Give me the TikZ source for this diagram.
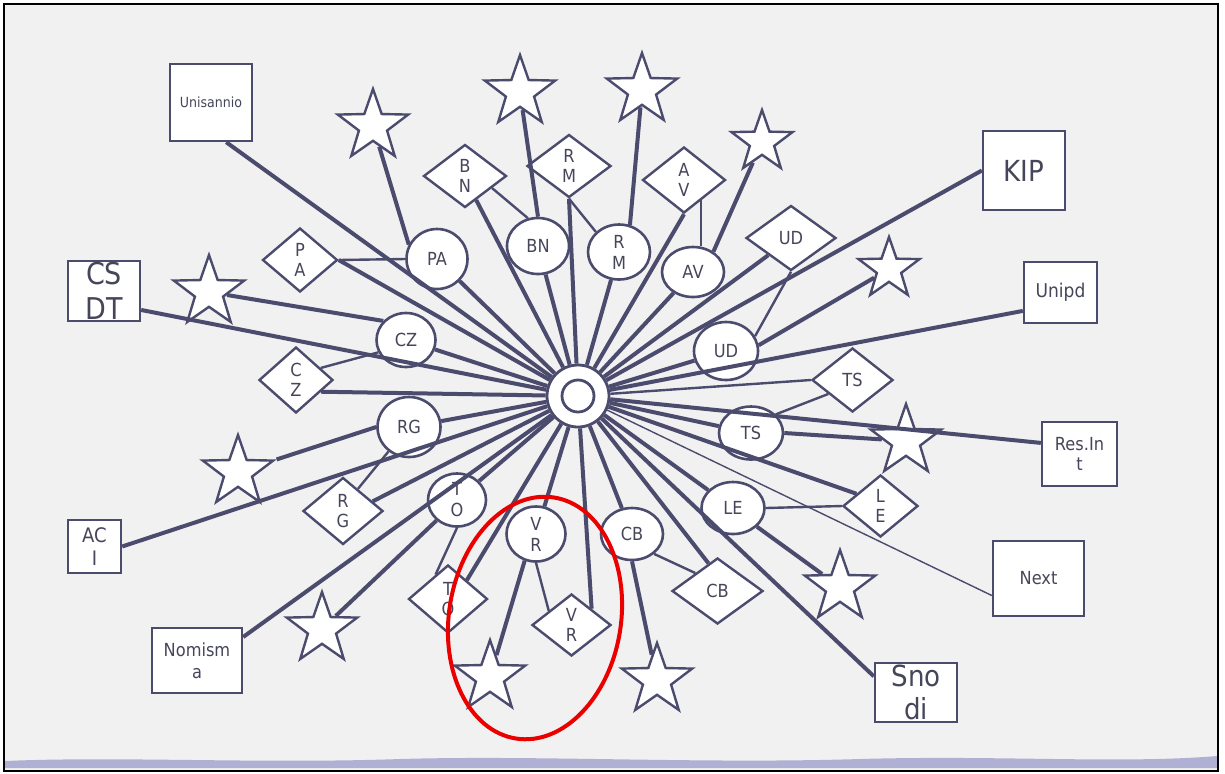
\documentclass[tikz,border=0pt]{standalone}
\usepackage{fontspec}
\setmainfont{DejaVu Sans}[FakeStretch=0.9]
\usetikzlibrary{shapes.geometric}
\definecolor{ink}{RGB}{75,75,110}
\definecolor{txt}{RGB}{70,70,90}
\definecolor{paper}{RGB}{241,241,241}
\definecolor{wave}{RGB}{176,176,212}
\definecolor{redring}{RGB}{235,0,0}
\tikzset{
  org/.style={draw=ink,line width=1.2pt,fill=white,inner sep=0pt},
  orgtxt/.style={text=txt,align=center,inner sep=0pt},
  site/.style={draw=ink,line width=1.3pt,fill=white,ellipse,inner sep=0pt,
    text=txt,align=center,font=\fontsize{9}{10.5}\selectfont},
  rhomb/.style={draw=ink,line width=1.2pt,fill=white,diamond,inner sep=0pt,
    text=txt,align=center,font=\fontsize{9}{10}\selectfont},
  starry/.style={draw=ink,line width=1.2pt,fill=white,star,star points=5,
    star point ratio=2.5,inner sep=0pt,minimum size=37pt},
  hubring/.style={draw=ink,line width=1.4pt,fill=white,circle,inner sep=0pt},
  spoke/.style={draw=ink,line width=2pt},
  tie/.style={draw=ink,line width=1.2pt},
  hair/.style={draw=ink,line width=0.7pt},
}

\begin{document}
\begin{tikzpicture}[x=0.5pt,y=-0.5pt]
  \useasboundingbox (0,0) rectangle (1225,773);
  % backdrop
  \fill[white] (0,0) rectangle (1225,773);
  \fill[paper] (4,4) rectangle (1218,771);
  \fill[wave] (5,768) -- (5,761) .. controls (120,756) and (260,764) .. (400,759)
    .. controls (540,755) and (700,764) .. (860,759)
    .. controls (1000,755) and (1120,764) .. (1217,756) -- (1217,768) -- cycle;
  \draw[black,line width=1pt] (4,4) rectangle (1218,771);

  % partner boxes
  \node[org,minimum width=41pt,minimum height=38.5pt] (uni) at (211,102.5) {};
  \node[org,minimum width=41pt,minimum height=39.5pt] (kip) at (1024,170.5) {};
  \node[org,minimum width=36pt,minimum height=30pt] (csdt) at (104,291) {};
  \node[org,minimum width=36.5pt,minimum height=30.5pt] (unipd) at (1060.5,292.5) {};
  \node[org,minimum width=37.5pt,minimum height=32pt] (resint) at (1079.5,454) {};
  \node[org,minimum width=26.5pt,minimum height=26.5pt] (aci) at (94.5,546.5) {};
  \node[org,minimum width=45.5pt,minimum height=37.5pt] (next) at (1038.5,578.5) {};
  \node[org,minimum width=45pt,minimum height=32.5pt] (nomisma) at (197,660.5) {};
  \node[org,minimum width=41pt,minimum height=29.5pt] (snodi) at (916,692.5) {};
  \node[orgtxt,font=\fontsize{7}{8}\selectfont] (uni-t) at (uni) {Unisannio};
  \node[orgtxt,font=\fontsize{14.5}{17}\selectfont] (kip-t) at (kip) {KIP};
  \node[orgtxt,font=\fontsize{15}{17.5}\selectfont] (csdt-t) at (csdt) {CS\\DT};
  \node[orgtxt,font=\fontsize{9.5}{11}\selectfont] (unipd-t) at (unipd) {Unipd};
  \node[orgtxt,font=\fontsize{9}{10}\selectfont] (resint-t) at (resint) {Res.In\\t};
  \node[orgtxt,font=\fontsize{10}{11.5}\selectfont] (aci-t) at (aci) {AC\\I};
  \node[orgtxt,font=\fontsize{9}{10.5}\selectfont] (next-t) at (next) {Next};
  \node[orgtxt,font=\fontsize{9}{11}\selectfont] (nomisma-t) at (nomisma) {Nomism\\a};
  \node[orgtxt,font=\fontsize{14.5}{16.5}\selectfont] (snodi-t) at (snodi) {Sno\\di};

  % hub
  \node[hubring,minimum size=31pt] (hub) at (578,396) {};
  \node[hubring,minimum size=16pt] (hubc) at (hub) {};

  % sites
  \node[site,minimum width=30.5pt,minimum height=30pt] (pac) at (437,259) {PA};
  \node[site,minimum width=31pt,minimum height=28pt] (bnc) at (538,246) {BN};
  \node[site,minimum width=31pt,minimum height=27.5pt] (rmc) at (619,252) {R\\M};
  \node[site,minimum width=31pt,minimum height=25pt] (avc) at (693,272) {AV};
  \node[site,minimum width=32pt,minimum height=29pt] (udc) at (726,351) {UD};
  \node[site,minimum width=29.5pt,minimum height=27pt] (czc) at (406,340) {CZ};
  \node[site,minimum width=31.5pt,minimum height=30pt] (rgc) at (409,427) {RG};
  \node[site,minimum width=32pt,minimum height=26.5pt] (tsc) at (751,433) {TS};
  \node[site,minimum width=29pt,minimum height=26.5pt] (toc) at (457,500) {T\\O};
  \node[site,minimum width=29.5pt,minimum height=27.5pt] (vrc) at (536,534) {V\\R};
  \node[site,minimum width=31pt,minimum height=26pt] (cbc) at (632,534) {CB};
  \node[site,minimum width=31.5pt,minimum height=26pt] (lec) at (733,508) {LE};

  % diamonds
  \node[rhomb,minimum width=41.5pt,minimum height=31.5pt] (bnd) at (465,176) {B\\N};
  \node[rhomb,minimum width=42pt,minimum height=31.5pt] (rmd) at (569,166) {R\\M};
  \node[rhomb,minimum width=41.5pt,minimum height=33pt] (avd) at (684,180) {A\\V};
  \node[rhomb,minimum width=45pt,minimum height=32.5pt] (udd) at (791,238) {UD};
  \node[rhomb,minimum width=37.5pt,minimum height=32pt] (pad) at (300,260) {P\\A};
  \node[rhomb,minimum width=37pt,minimum height=33pt] (czd) at (296,380) {C\\Z};
  \node[rhomb,minimum width=40pt,minimum height=33.5pt] (rgd) at (343,511) {R\\G};
  \node[rhomb,minimum width=39.5pt,minimum height=34pt] (tod) at (448,599) {T\\O};
  \node[rhomb,minimum width=39.5pt,minimum height=31pt] (vrd) at (571.5,625) {V\\R};
  \node[rhomb,minimum width=45.5pt,minimum height=33pt] (cbd) at (717.5,591) {CB};
  \node[rhomb,minimum width=40.5pt,minimum height=32pt] (tsd) at (852.5,380) {TS};
  \node[rhomb,minimum width=37.5pt,minimum height=31pt] (led) at (880.5,506) {L\\E};

  % stars
  \node[starry] (s1) at (520,92) {};
  \node[starry] (s2) at (642,90) {};
  \node[starry] (s3) at (373,126) {};
  \node[starry,minimum size=32pt] (s4) at (762,142) {};
  \node[starry,minimum size=32pt] (s5) at (889,269) {};
  \node[starry] (s6) at (209,292) {};
  \node[starry] (s7) at (906,441) {};
  \node[starry] (s8) at (238,472) {};
  \node[starry] (s9) at (840,587) {};
  \node[starry] (s10) at (322,629) {};
  \node[starry] (s11) at (490,677) {};
  \node[starry] (s12) at (657,680) {};

  % spokes into the hub
  \foreach \n in {pac,bnc,rmc,avc,udc,czc,rgc,tsc,toc,vrc,cbc,lec}
    \draw[spoke] (\n) -- (hub);
  \foreach \a in {uni.-69,pad.east,bnd.-65,rmd.south,avd.south,udd.-143,
      kip.west,unipd.-154,resint.164,led.153,snodi.159,cbd.108,vrd.39,
      tod.45,nomisma.27,rgd.18,aci.east,czd.-25,csdt.-27}
    \draw[spoke] (\a) -- (hub);
  \draw[tie] (tsd.west) -- (hub);
  \draw[hair] (next.-160) -- (hub);

  % diamond to site
  \draw[tie] (pad.east) -- (pac.west);
  \draw[tie] (bnd.-24) -- (bnc.110);
  \draw[tie] (rmd.south) -- (rmc.139);
  \draw[tie] (avd.-50) -- (avd.-50 |- avc.north);
  \draw[tie] (udd.south) -- (udc.27);
  \draw[tie] (czd.26) -- (czc.-156);
  \draw[tie] (rgd.56) -- (rgc.-130);
  \draw[tie] (tod.117) -- (toc.south);
  \draw[tie] (vrc.south) -- (vrd.148);
  \draw[tie] (cbd.141) -- (cbc.-42);
  \draw[tie] (tsd.-150) -- (tsc.37);
  \draw[tie] (led.west) -- (lec.east);

  % site to star
  \draw[spoke] (pac.153) -- (s3);
  \draw[spoke] (bnc.north) -- (s1);
  \draw[spoke] (rmc.68) -- (s2);
  \draw[spoke] (avc.45) -- (s4);
  \draw[spoke] (udc.10) -- (s5);
  \draw[spoke] (czc.140) -- (s6);
  \draw[spoke] (rgc.west) -- (s8);
  \draw[spoke] (toc.-135) -- (s10);
  \draw[spoke] (vrc.-113) -- (s11);
  \draw[spoke] (cbc.south) -- (s12);
  \draw[spoke] (tsc.east) -- (s7);
  \draw[spoke] (lec.-38) -- (s9);

  % highlight
  \draw[redring,line width=2pt,rotate around={-9:(535,618)}]
    (535,618) ellipse [x radius=43pt,y radius=61pt];
\end{tikzpicture}
\end{document}
